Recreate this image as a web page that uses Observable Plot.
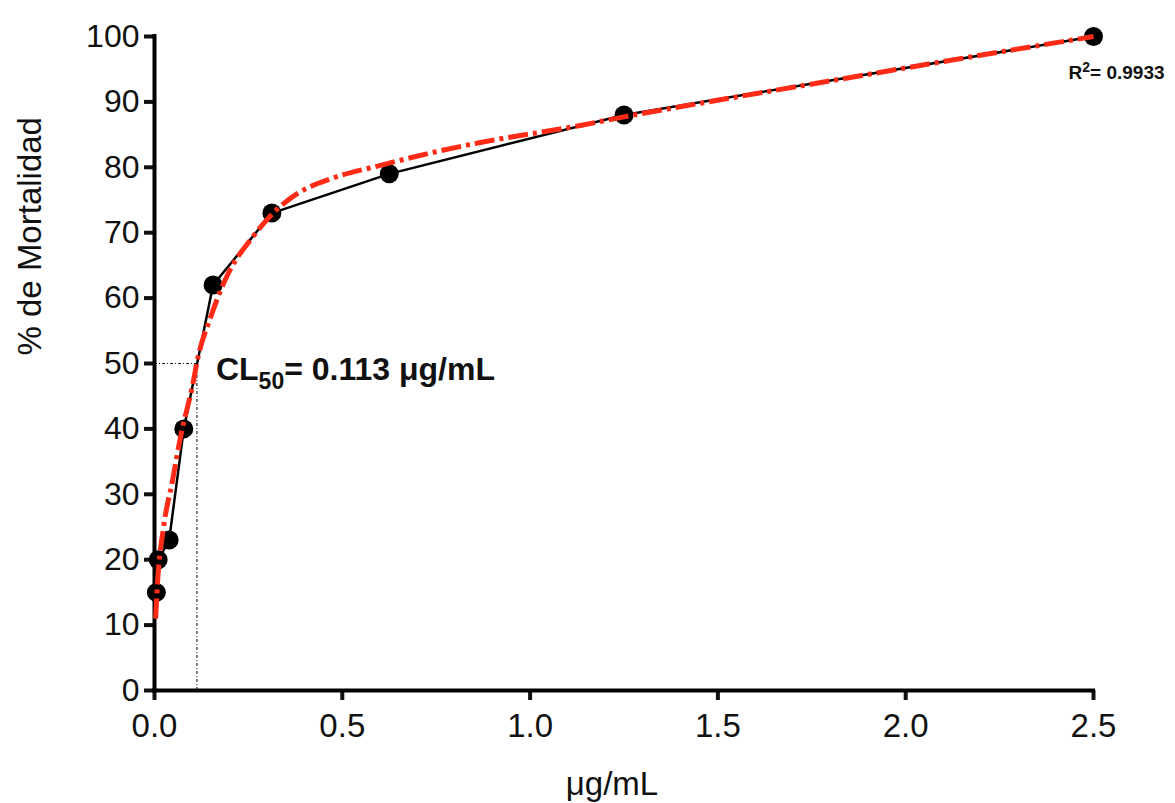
<!DOCTYPE html>
<html><head><meta charset="utf-8">
<script src="https://cdn.jsdelivr.net/npm/d3@7"></script>
<script src="https://cdn.jsdelivr.net/npm/@observablehq/plot@0.6"></script>
<style>body{margin:0;background:#fff} svg{display:block}</style>
</head><body><div id="chart"></div>
<script>
// observed data
const doses = [0.0049, 0.0098, 0.039, 0.078, 0.156, 0.3125, 0.625, 1.25, 2.5];
const mortality = [15, 20, 23, 40, 62, 73, 79, 88, 100];
// fitted curve
const fitX = [0.003, 0.008, 0.024, 0.048, 0.069, 0.104, 0.113, 0.149, 0.194, 0.261, 0.309, 0.381, 0.477, 0.602, 0.743, 0.868, 1.134, 1.24, 1.454, 1.808, 2.165, 2.5];
const fitY = [11.0, 16.4, 24.9, 32.1, 38.7, 47.4, 50.2, 57.0, 63.5, 69.3, 72.6, 76.0, 78.4, 80.3, 82.3, 83.8, 86.4, 87.6, 89.8, 93.3, 96.8, 100];
const xTicks = [0, 0.5, 1.0, 1.5, 2.0, 2.5];
const yTicks = [0, 10, 20, 30, 40, 50, 60, 70, 80, 90, 100];
const lc50 = 0.113;
const r2 = 0.9933;
const xLabel = "μg/mL";
const yLabel = "% de Mortalidad";

const obs = doses.map((d, i) => ({x: d, y: mortality[i]}));
const fit = fitX.map((d, i) => ({x: d, y: fitY[i]}));
const font = "'Liberation Sans', Arial, Helvetica, sans-serif";
const ink = "#111";

const plot = Plot.plot({
  width: 1175, height: 803,
  marginLeft: 154, marginRight: 82, marginTop: 36, marginBottom: 113,
  x: {domain: [0, 2.5]},
  y: {domain: [0, 100]},
  style: {fontFamily: font, color: ink, background: "#fff", overflow: "visible"},
  marks: [
    Plot.ruleX([lc50], {y1: 0, y2: 50, stroke: "#000", strokeWidth: 1, strokeDasharray: "3,2,1,2"}),
    Plot.ruleY([50], {x1: 0, x2: lc50, stroke: "#000", strokeWidth: 1, strokeDasharray: "3,2,1,2"}),
    Plot.axisY({ticks: yTicks, tickSize: 10, tickPadding: 5, fontSize: 32, strokeWidth: 4, label: null, tickFormat: d => d}),
    Plot.axisX({ticks: xTicks, tickSize: 10, tickPadding: 13, fontSize: 33, strokeWidth: 4, label: null, tickFormat: d3.format(".1f")}),
    Plot.ruleX([0], {stroke: "#000", strokeWidth: 4, strokeLinecap: "square"}),
    Plot.ruleY([0], {stroke: "#000", strokeWidth: 4, strokeLinecap: "square"}),
    Plot.line(obs, {x: "x", y: "y", stroke: "#000", strokeWidth: 2.5}),
    Plot.dot(obs, {x: "x", y: "y", r: 9.5, fill: "#000", stroke: "none"}),
    Plot.line(fit, {x: "x", y: "y", curve: "monotone-x", stroke: "#ff2b17", strokeWidth: 5, strokeDasharray: "20,5,4,5", strokeLinecap: "butt"}),
    Plot.text([lc50], {x: d => d, y: 50, text: d => "CL50= " + d + " μg/mL", className: "cl50", textAnchor: "start", lineAnchor: "bottom", dx: 19, dy: 16, fontSize: 32, fontWeight: "bold", fill: ink}),
    Plot.text([r2], {x: 2.5, y: 100, text: d => "R2= " + d, className: "r2", textAnchor: "start", lineAnchor: "bottom", dx: -25, dy: 42, fontSize: 19, fontWeight: "bold", fill: ink}),
    Plot.text([yLabel], {frameAnchor: "left", text: d => d, rotate: -90, dx: -124, dy: -8, fontSize: 33, fill: ink}),
    Plot.text([xLabel], {frameAnchor: "bottom", text: d => d, lineAnchor: "bottom", dx: -12, dy: 104, fontSize: 33, fill: ink})
  ]
});
document.getElementById("chart").appendChild(plot);

// subscript / superscript
const svg = d3.select(plot);
const cl = svg.select("g.cl50 text");
cl.text(null);
cl.append("tspan").text("CL");
cl.append("tspan").attr("font-size", 23).attr("dy", 9).text("50");
cl.append("tspan").attr("dy", -9).text("= " + lc50 + " μg/mL");
const rt = svg.select("g.r2 text");
rt.text(null);
rt.append("tspan").text("R");
rt.append("tspan").attr("font-size", 14).attr("dy", -7).text("2");
rt.append("tspan").attr("dy", 7).text("= " + r2);
</script>
</body></html>
